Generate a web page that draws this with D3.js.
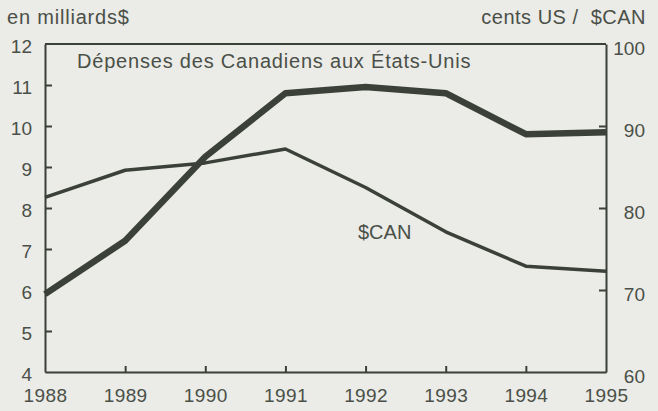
<!DOCTYPE html>
<html>
<head>
<meta charset="utf-8">
<script src="https://cdn.jsdelivr.net/npm/d3@7"></script>
<style>
  body { margin: 0; background: #ebebe7; }
  svg text { font-family: "Liberation Sans", Arial, sans-serif; fill: #4a5048; }
</style>
</head>
<body>
<div id="chart"></div>
<script>
// data
var years = [1988, 1989, 1990, 1991, 1992, 1993, 1994, 1995];
var depenses = [5.9, 7.2, 9.25, 10.8, 10.95, 10.8, 9.8, 9.85]; // milliards $
var centsCAN = [81.3, 84.6, 85.5, 87.2, 82.5, 77.1, 72.9, 72.3]; // cents US / $CAN
var leftTicks = [4, 5, 6, 7, 8, 9, 10, 11, 12];
var rightTicks = [60, 70, 80, 90, 100];

var width = 658, height = 411;
var margin = { top: 44, right: 52, bottom: 39, left: 45 };
var ink = "#3b4139";

var svg = d3.select("#chart")
    .append("svg")
    .attr("width", width)
    .attr("height", height);

var x = d3.scaleLinear()
    .domain([1988, 1995])
    .range([margin.left, width - margin.right]);

var yL = d3.scaleLinear()
    .domain([4, 12])
    .range([height - margin.bottom, margin.top]);

var yR = d3.scaleLinear()
    .domain([60, 100])
    .range([height - margin.bottom, margin.top]);

// top border of the box
svg.append("line")
    .attr("x1", x(1988)).attr("x2", x(1995))
    .attr("y1", yL(12)).attr("y2", yL(12))
    .attr("stroke", ink).attr("stroke-width", 2);

// bottom axis
var gx = svg.append("g")
    .attr("transform", "translate(0," + yL(4) + ")")
    .call(d3.axisBottom(x).tickValues(years).tickFormat(d3.format("d"))
        .tickSize(-6).tickSizeOuter(0).tickPadding(17));

// left axis
var gl = svg.append("g")
    .attr("transform", "translate(" + x(1988) + ",0)")
    .call(d3.axisLeft(yL).tickValues(leftTicks)
        .tickSize(-7).tickSizeOuter(0).tickPadding(13));

// right axis
var gr = svg.append("g")
    .attr("transform", "translate(" + x(1995) + ",0)")
    .call(d3.axisRight(yR).tickValues(rightTicks)
        .tickSize(-7).tickSizeOuter(0).tickPadding(8));

[gx, gl, gr].forEach(function (g) {
    g.select(".domain").attr("stroke", ink).attr("stroke-width", 2);
    g.selectAll(".tick line").attr("stroke", ink).attr("stroke-width", 2);
    g.selectAll(".tick text")
        .attr("fill", "#4a5048")
        .style("font-size", "19px");
});
gx.selectAll(".tick line").filter(function (d) { return d == 1988 || d == 1995; }).remove();
gl.selectAll(".tick line").filter(function (d) { return d == 4 || d == 12; }).remove();
gr.selectAll(".tick line").filter(function (d) { return d == 60 || d == 100; }).remove();
gl.selectAll(".tick text").attr("dy", "0.45em");
gr.selectAll(".tick text").attr("text-anchor", "end").attr("x", 39).attr("dy", "0.55em");
gx.selectAll(".tick text").style("letter-spacing", "0.4px");

// lines
var lineL = d3.line()
    .x(function (d, i) { return x(years[i]); })
    .y(function (d) { return yL(d); });
var lineR = d3.line()
    .x(function (d, i) { return x(years[i]); })
    .y(function (d) { return yR(d); });

svg.append("path")
    .datum(centsCAN)
    .attr("d", lineR)
    .attr("fill", "none")
    .attr("stroke", ink)
    .attr("stroke-width", 3.5)
    .attr("stroke-linejoin", "round");

svg.append("path")
    .datum(depenses)
    .attr("d", lineL)
    .attr("fill", "none")
    .attr("stroke", ink)
    .attr("stroke-width", 6.5)
    .attr("stroke-linejoin", "round");

// labels
svg.append("text")
    .attr("x", 7).attr("y", 24)
    .style("font-size", "20px").style("letter-spacing", "0.8px")
    .text("en milliards$");

svg.append("text")
    .attr("x", 646).attr("y", 24)
    .attr("text-anchor", "end")
    .style("font-size", "20px").style("letter-spacing", "0.5px")
    .style("white-space", "pre")
    .text("cents US /  $CAN");

svg.append("text")
    .attr("x", 77).attr("y", 68)
    .style("font-size", "20px").style("letter-spacing", "0.8px")
    .text("Dépenses des Canadiens aux États-Unis");

svg.append("text")
    .attr("x", 358).attr("y", 239)
    .style("font-size", "20px")
    .text("$CAN");
</script>
</body>
</html>
